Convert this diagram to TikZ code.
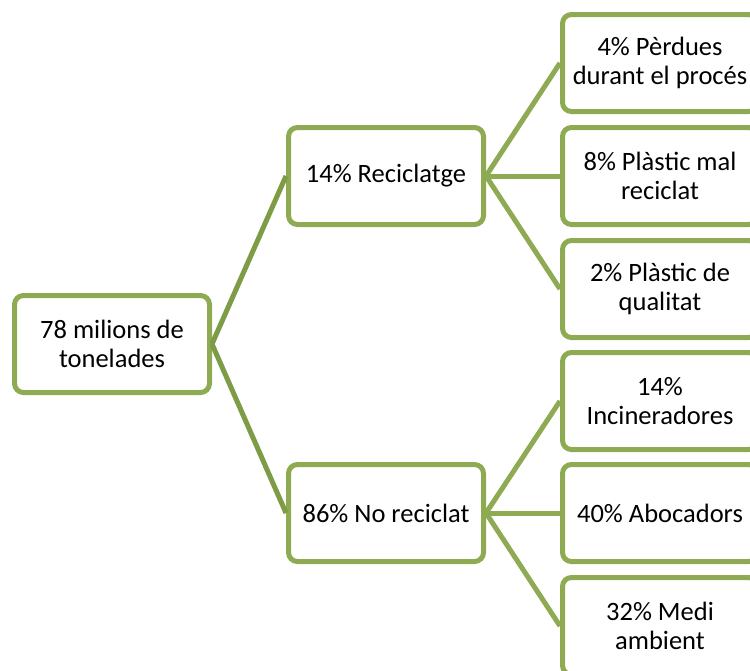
\documentclass[tikz,border=0pt]{standalone}
\usepackage{fontspec}
\setmainfont{Carlito}
\begin{document}
\begin{tikzpicture}[x=1pt,y=-1pt,
  box/.style={draw=boxgreen,line width=5pt,rounded corners=9pt,fill=white,
    minimum width=195pt,minimum height=97pt,align=center,inner sep=0pt,
    font=\fontsize{26.5}{29}\selectfont,text=black},
  link/.style={draw=boxgreen,line width=5pt},
  rootlink/.style={draw=rootgreen,line width=5pt}]
\definecolor{boxgreen}{HTML}{8EAA52}
\definecolor{rootgreen}{HTML}{7E9C45}
\useasboundingbox (0,0) rectangle (750,670);
\clip (0,0) rectangle (750,670);
\node[box] (root) at (112,344) {78 milions de\\tonelades};
\node[box] (rec) at (386,176) {14\% Reciclatge};
\node[box] (norec) at (386,513) {86\% No reciclat};
\node[box] (a) at (660,63) {4\% Pèrdues\\durant el procés};
\node[box] (b) at (660,176) {8\% Plàstic mal\\reciclat};
\node[box] (c) at (660,289) {2\% Plàstic de\\qualitat};
\node[box] (d) at (660,401) {14\%\\Incineradores};
\node[box] (e) at (660,513) {40\% Abocadors};
\node[box] (f) at (660,626) {32\% Medi\\ambient};
\draw[rootlink] (root.east) -- (rec.west);
\draw[rootlink] (root.east) -- (norec.west);
\draw[link] (rec.east) -- (a.west);
\draw[link] (rec.east) -- (b.west);
\draw[link] (rec.east) -- (c.west);
\draw[link] (norec.east) -- (d.west);
\draw[link] (norec.east) -- (e.west);
\draw[link] (norec.east) -- (f.west);
\end{tikzpicture}
\end{document}
